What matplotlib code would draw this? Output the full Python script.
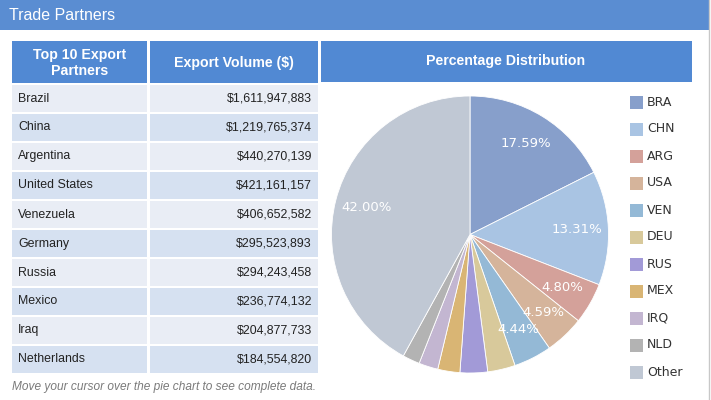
import matplotlib
matplotlib.use('Agg')
import matplotlib.pyplot as plt
from matplotlib.patches import Rectangle

###
partners = ['Brazil', 'China', 'Argentina', 'United States', 'Venezuela',
            'Germany', 'Russia', 'Mexico', 'Iraq', 'Netherlands']
volumes = [1611947883, 1219765374, 440270139, 421161157, 406652582,
           295523893, 294243458, 236774132, 204877733, 184554820]
codes = ['BRA', 'CHN', 'ARG', 'USA', 'VEN', 'DEU', 'RUS', 'MEX', 'IRQ', 'NLD', 'Other']
shares = [17.59, 13.31, 4.80, 4.59, 4.44, 3.22, 3.21, 2.58, 2.24, 2.01, 42.00]
slice_colors = ['#879fcb', '#a9c4e3', '#d4a19a', '#d5b49b', '#94b9d6', '#d8c99b',
                '#a29ad7', '#d9b574', '#c3b6d1', '#b3b3b3', '#c0c8d4']
###

W, H = 711, 400
fig = plt.figure(figsize=(W / 100, H / 100), dpi=100)
fig.patch.set_facecolor('white')

# pixel-space canvas for the table and frames
bg = fig.add_axes([0, 0, 1, 1])
bg.set_xlim(0, W)
bg.set_ylim(H, 0)
bg.axis('off')

blue = '#5189d3'
bg.add_patch(Rectangle((0, 0), 709, 30, color='#5a8dd2', lw=0))
bg.plot([709, 709], [0, 400], color='#c8c8c8', lw=1)
bg.text(9, 15, 'Trade Partners', color='white', fontsize=11.5,
        family='Liberation Sans', va='center', ha='left')

# table header
bg.add_patch(Rectangle((12, 41), 135, 42, color=blue, lw=0))
bg.add_patch(Rectangle((150, 41), 168, 42, color=blue, lw=0))
bg.add_patch(Rectangle((321, 41), 371, 41, color=blue, lw=0))
bg.text(79.5, 63, 'Top 10 Export\nPartners', color='white', fontsize=10.2, weight='bold',
        family='Liberation Sans', ha='center', va='center', linespacing=1.1)
bg.text(234, 63, 'Export Volume ($)', color='white', fontsize=10.2, weight='bold',
        family='Liberation Sans', ha='center', va='center')
bg.text(506, 61, 'Percentage Distribution', color='white', fontsize=10.2, weight='bold',
        family='Liberation Sans', ha='center', va='center')

# table rows
for i, (name, vol) in enumerate(zip(partners, volumes)):
    top = 85 + 29 * i
    c = '#e9edf5' if i % 2 == 0 else '#d6e1f1'
    bg.add_patch(Rectangle((12, top), 135, 27, color=c, lw=0))
    bg.add_patch(Rectangle((150, top), 168, 27, color=c, lw=0))
    bg.text(18, top + 13.5, name, color='#222222', fontsize=8.9,
            family='Liberation Sans', va='center', ha='left')
    bg.text(312, top + 13.5, '${:,}'.format(vol), color='#222222', fontsize=8.9,
            family='Liberation Sans', va='center', ha='right')

bg.text(12, 387, 'Move your cursor over the pie chart to see complete data.',
        color='#7a7a7a', fontsize=8.6, style='italic', family='Liberation Sans',
        va='center', ha='left')

# legend
for i, (code, col) in enumerate(zip(codes, slice_colors)):
    y = 102 + 27 * i
    bg.add_patch(Rectangle((630, y - 6.5), 13, 13, color=col, lw=0))
    bg.text(647, y, code, color='#333333', fontsize=9, family='DejaVu Sans',
            va='center', ha='left')

# pie
cx, cy, r = 470, 234.5, 138.5
box = 142
pax = fig.add_axes([(cx - box) / W, (H - cy - box) / H, 2 * box / W, 2 * box / H])
wedges, texts, autotexts = pax.pie(
    shares, colors=slice_colors, startangle=90, counterclock=False, radius=1,
    autopct=lambda p: '%.2f%%' % p if p >= 4.4 else '', pctdistance=0.77,
    wedgeprops=dict(linewidth=0.6, edgecolor='white'))
pax.set_xlim(-box / r, box / r)
pax.set_ylim(-box / r, box / r)
pax.axis('off')
for t in autotexts:
    t.set_color('white')
    t.set_fontsize(9.5)
    t.set_family('DejaVu Sans')

fig.savefig('out.png', dpi=100)
